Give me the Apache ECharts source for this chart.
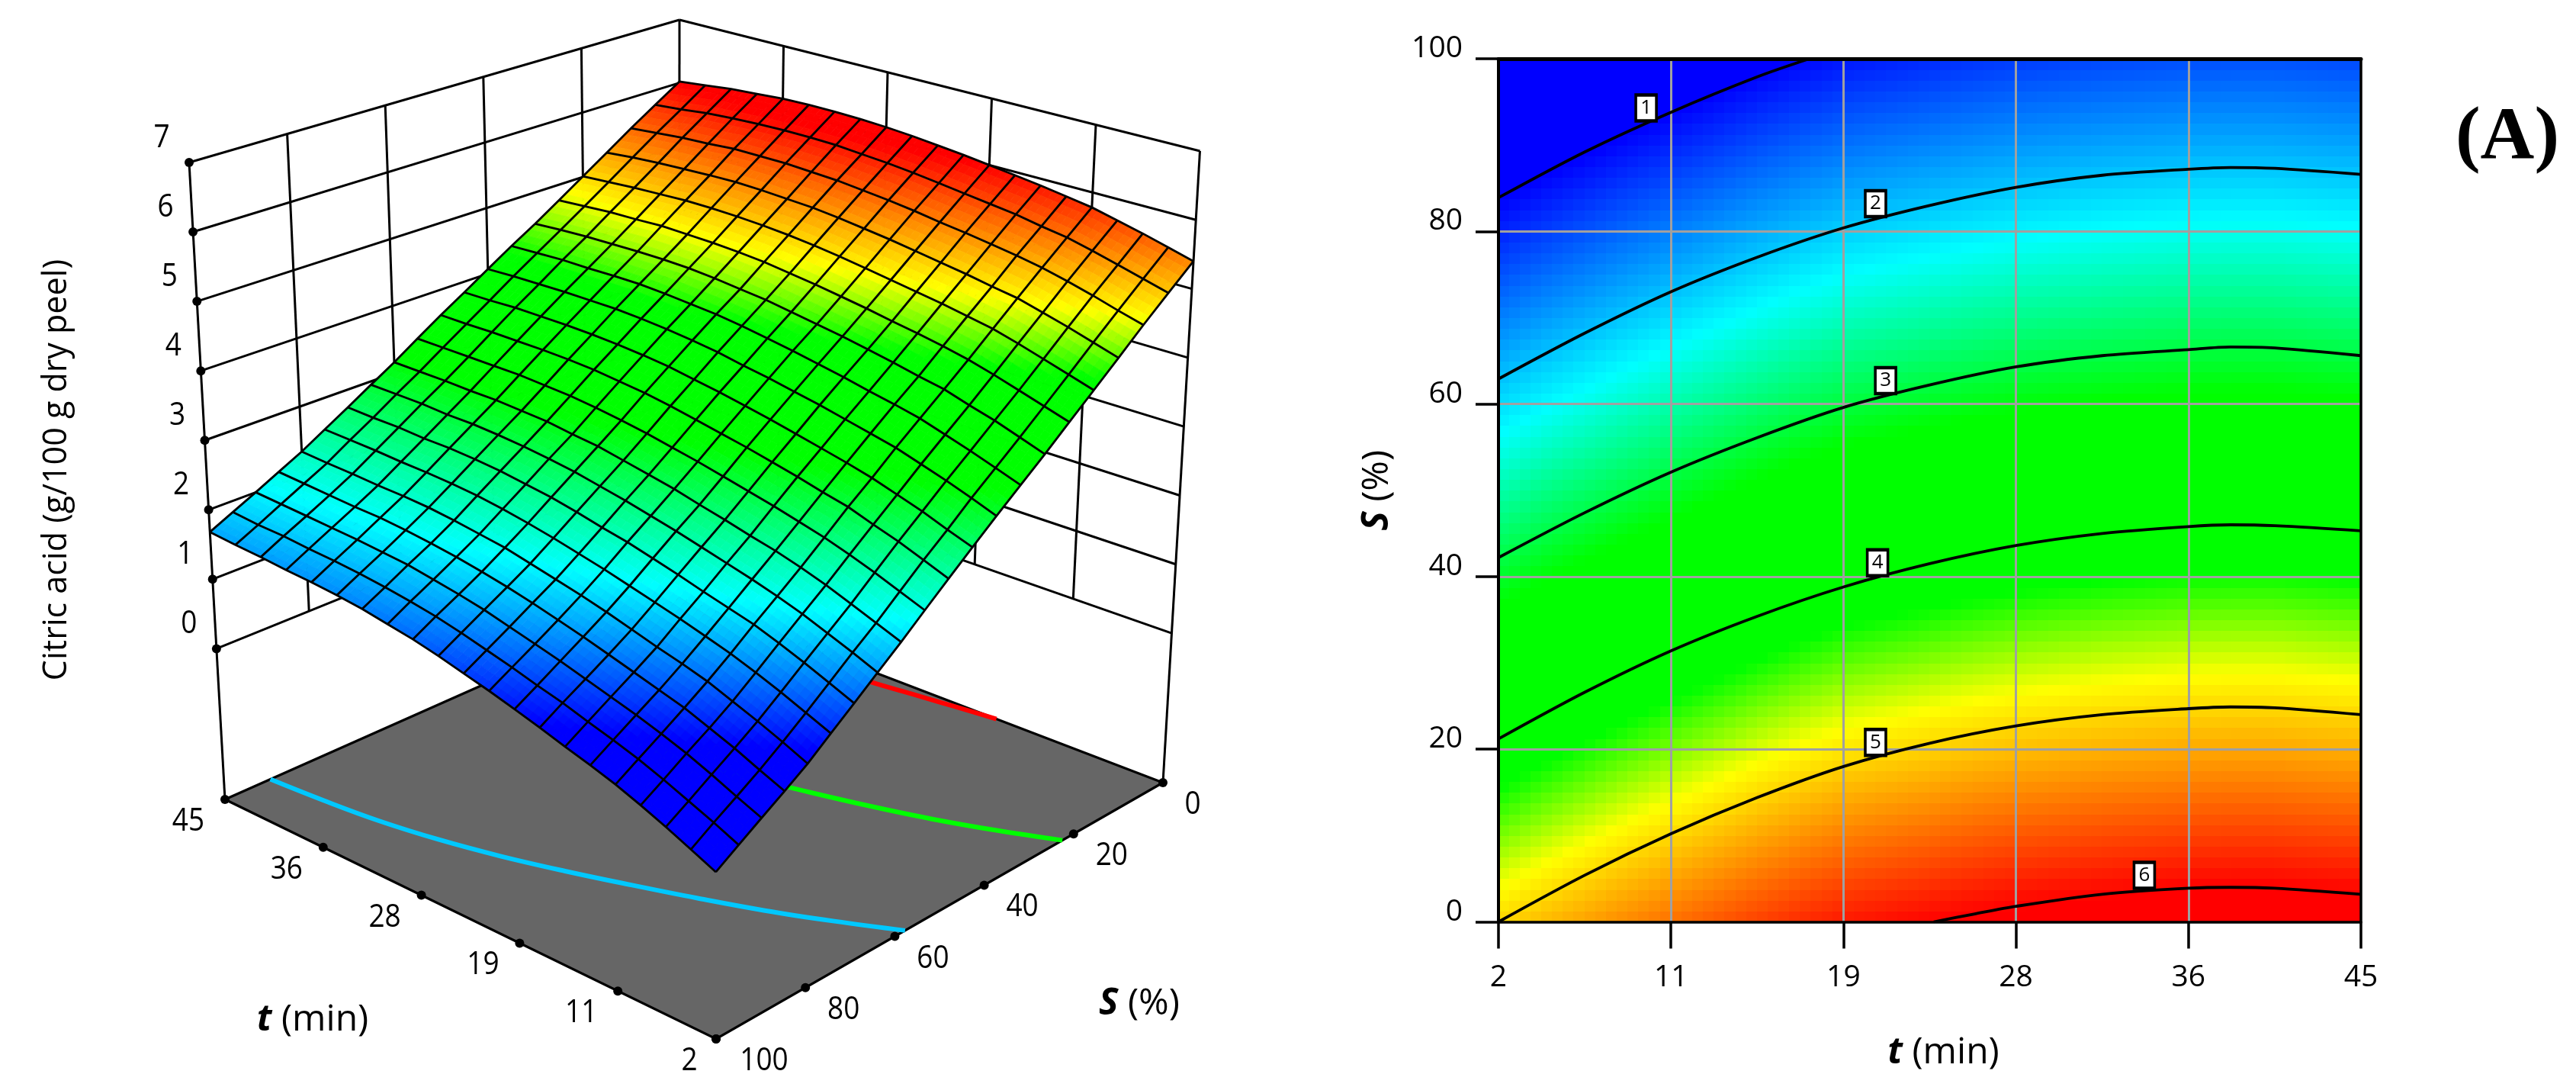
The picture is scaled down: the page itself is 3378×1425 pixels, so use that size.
<!DOCTYPE html>
<html><head><meta charset="utf-8">
<style>html,body{margin:0;padding:0;background:#fff}#c{width:3378px;height:1425px}</style>
<script src="https://cdn.jsdelivr.net/npm/echarts@6/dist/echarts.min.js"></script>
</head><body><div id="c"></div>
<script>
// ---------- data ----------
const tTicks = [2, 10.6, 19.2, 27.8, 36.4, 45];
const sTicks = [0, 20, 40, 60, 80, 100];
const zTicks = [0, 1, 2, 3, 4, 5, 6, 7];
const floorZ = -2.17;
const meshT = [2,4.15,6.3,8.45,10.6,12.75,14.9,17.05,19.2,21.35,23.5,25.65,27.8,29.95,32.1,34.25,36.4,38.55,40.7,42.85,45];
const meshS = [0,5,10,15,20,25,30,35,40,45,50,55,60,65,70,75,80,85,90,95,100];
// 3D surface: one row per meshT, one column per meshS
const surfaceZ = [
[5.40,5.09,4.78,4.46,4.15,3.85,3.55,3.27,2.99,2.71,2.43,2.15,1.87,1.61,1.35,1.10,.85,.64,.44,.24,.04],
[5.50,5.19,4.88,4.57,4.26,3.96,3.67,3.39,3.12,2.83,2.56,2.28,2.00,1.75,1.49,1.24,1.00,.78,.58,.39,.19],
[5.60,5.29,4.99,4.68,4.37,4.07,3.79,3.51,3.24,2.96,2.69,2.41,2.13,1.88,1.63,1.38,1.14,.93,.73,.53,.34],
[5.69,5.39,5.09,4.78,4.48,4.18,3.89,3.62,3.35,3.07,2.80,2.53,2.26,2.01,1.76,1.51,1.27,1.06,.87,.67,.48],
[5.78,5.48,5.18,4.88,4.58,4.28,4.00,3.73,3.46,3.18,2.92,2.64,2.37,2.12,1.88,1.63,1.40,1.19,.99,.80,.61],
[5.84,5.54,5.25,4.94,4.65,4.36,4.07,3.81,3.54,3.27,3.00,2.73,2.47,2.22,1.97,1.73,1.50,1.29,1.10,.91,.72],
[5.90,5.61,5.31,5.01,4.72,4.43,4.15,3.88,3.62,3.35,3.09,2.82,2.55,2.31,2.06,1.83,1.59,1.39,1.20,1.01,.82],
[5.95,5.66,5.37,5.07,4.78,4.49,4.22,3.96,3.70,3.43,3.17,2.90,2.64,2.40,2.16,1.92,1.69,1.49,1.30,1.12,.93],
[6.00,5.71,5.42,5.13,4.84,4.56,4.29,4.03,3.77,3.51,3.25,2.98,2.72,2.49,2.25,2.01,1.79,1.59,1.40,1.21,1.03],
[6.05,5.76,5.48,5.19,4.90,4.62,4.35,4.10,3.84,3.58,3.32,3.06,2.81,2.57,2.34,2.10,1.88,1.68,1.49,1.31,1.13],
[6.09,5.81,5.53,5.24,4.96,4.68,4.41,4.16,3.90,3.65,3.39,3.13,2.88,2.65,2.41,2.18,1.96,1.77,1.58,1.40,1.22],
[6.13,5.85,5.57,5.29,5.01,4.73,4.47,4.22,3.97,3.71,3.46,3.20,2.95,2.72,2.49,2.26,2.04,1.85,1.67,1.49,1.31],
[6.16,5.88,5.61,5.33,5.05,4.78,4.51,4.27,4.02,3.77,3.52,3.26,3.02,2.79,2.56,2.33,2.12,1.92,1.74,1.57,1.39],
[6.18,5.91,5.63,5.35,5.08,4.81,4.55,4.30,4.06,3.81,3.56,3.31,3.06,2.84,2.61,2.39,2.17,1.98,1.80,1.63,1.45],
[6.19,5.92,5.65,5.37,5.10,4.83,4.58,4.33,4.09,3.84,3.60,3.35,3.11,2.88,2.66,2.44,2.22,2.03,1.86,1.68,1.51],
[6.19,5.92,5.65,5.38,5.11,4.84,4.59,4.35,4.11,3.86,3.62,3.37,3.13,2.91,2.69,2.47,2.26,2.07,1.89,1.72,1.55],
[6.18,5.91,5.65,5.37,5.11,4.85,4.59,4.35,4.11,3.87,3.63,3.39,3.15,2.93,2.71,2.49,2.28,2.10,1.92,1.75,1.58],
[6.15,5.89,5.62,5.35,5.09,4.83,4.58,4.34,4.11,3.87,3.63,3.39,3.15,2.93,2.71,2.50,2.29,2.11,1.94,1.77,1.60],
[6.12,5.86,5.60,5.33,5.07,4.82,4.57,4.34,4.10,3.87,3.63,3.39,3.16,2.95,2.73,2.52,2.31,2.13,1.96,1.80,1.63],
[6.07,5.81,5.56,5.30,5.04,4.79,4.55,4.32,4.09,3.85,3.62,3.39,3.16,2.95,2.73,2.53,2.32,2.15,1.98,1.81,1.65],
[6.02,5.77,5.52,5.26,5.01,4.76,4.52,4.30,4.07,3.84,3.62,3.39,3.16,2.95,2.74,2.54,2.34,2.17,2.00,1.84,1.68]
];
// contour-plot field: one row per meshT, one column per heatS
const heatS = [0,10,20,30,40,50,60,70,80,90,100];
const heatZ = [
[5.00,4.52,4.04,3.57,3.09,2.61,2.13,1.65,1.17,.69,.22],
[5.13,4.65,4.17,3.70,3.22,2.74,2.26,1.78,1.30,.82,.35],
[5.25,4.77,4.29,3.82,3.34,2.86,2.38,1.90,1.42,.94,.47],
[5.37,4.89,4.41,3.94,3.46,2.98,2.50,2.02,1.54,1.06,.59],
[5.48,5.00,4.52,4.05,3.57,3.09,2.61,2.13,1.65,1.17,.70],
[5.59,5.11,4.63,4.16,3.68,3.20,2.72,2.24,1.76,1.28,.81],
[5.70,5.22,4.74,4.27,3.79,3.31,2.83,2.35,1.87,1.39,.92],
[5.80,5.32,4.84,4.37,3.89,3.41,2.93,2.45,1.97,1.49,1.02],
[5.89,5.41,4.93,4.46,3.98,3.50,3.02,2.54,2.06,1.58,1.11],
[5.94,5.46,4.98,4.51,4.03,3.55,3.07,2.59,2.11,1.63,1.16],
[5.99,5.51,5.03,4.56,4.08,3.60,3.12,2.64,2.16,1.68,1.21],
[6.04,5.56,5.08,4.61,4.13,3.65,3.17,2.69,2.21,1.73,1.26],
[6.08,5.60,5.12,4.65,4.17,3.69,3.21,2.73,2.25,1.77,1.30],
[6.11,5.63,5.15,4.68,4.20,3.72,3.24,2.76,2.28,1.80,1.33],
[6.14,5.66,5.18,4.71,4.23,3.75,3.27,2.79,2.31,1.83,1.36],
[6.16,5.68,5.20,4.73,4.25,3.77,3.29,2.81,2.33,1.85,1.38],
[6.18,5.70,5.22,4.75,4.27,3.79,3.31,2.83,2.35,1.87,1.40],
[6.19,5.71,5.23,4.76,4.28,3.80,3.32,2.84,2.36,1.88,1.41],
[6.19,5.71,5.23,4.76,4.28,3.80,3.32,2.84,2.36,1.88,1.41],
[6.17,5.69,5.21,4.74,4.26,3.78,3.30,2.82,2.34,1.86,1.39],
[6.15,5.67,5.19,4.72,4.24,3.76,3.28,2.80,2.32,1.84,1.37]
];
// contour lines of the 2D plot as [t, S]
const contour1 = [[2,83.9],[6.3,89.2],[10.6,93.8],[14.9,97.9],[17.5,100]];
const contour2 = [[2,62.9],[6.3,68.2],[10.6,73],[14.9,77],[19.2,80.4],[23.5,83],[27.8,85.1],[32.1,86.5],[36.4,87.2],[38.5,87.4],[40.7,87.3],[45,86.6]];
const contour3 = [[2,42.2],[6.3,47.4],[10.6,52.1],[14.9,56.1],[19.2,59.6],[23.5,62.2],[27.8,64.3],[32.1,65.6],[36.4,66.3],[38.5,66.6],[40.7,66.5],[45,65.6]];
const contour4 = [[2,21.2],[6.3,26.6],[10.6,31.4],[14.9,35.4],[19.2,38.8],[23.5,41.5],[27.8,43.6],[32.1,45],[36.4,45.8],[38.5,46],[40.7,45.9],[45,45.3]];
const contour5 = [[2,0],[6.3,5.4],[10.6,10.2],[14.9,14.4],[19.2,18],[23.5,20.7],[27.8,22.7],[32.1,24],[36.4,24.7],[38.5,24.9],[40.7,24.8],[45,24]];
const contour6 = [[23.7,0],[25.7,.9],[27.8,1.8],[32.1,3.2],[36.4,3.9],[38.5,4],[40.7,3.9],[45,3.2]];
const contourLabels = [[9.36,94.3,'1'],[20.8,83.2,'2'],[21.3,62.7,'3'],[20.9,41.6,'4'],[20.8,20.8,'5'],[34.2,5.4,'6']];
// contours on the floor of the 3D box as [t, S]
const floorLevel2 = [[2,57.7],[6.3,62.6],[10.6,67.2],[14.9,71.3],[19.2,75.2],[23.5,79],[27.8,82.5],[32.1,85.4],[36.4,87.6],[40.7,89],[45,90]];
const floorLevel4 = [[2,22.5],[6.3,26.4],[10.6,29.9],[14.9,32.9],[19.2,35.6],[23.5,38.1],[27.8,40.2],[32.1,41.6],[36.4,42.3],[40.7,42.2],[45,41.5]];
const floorLevel6 = [[16.8,0],[19.2,.6],[21.35,1.2],[23.5,1.8],[27.8,3],[32.1,3.5],[36.4,3.3],[40.7,2.3],[45,.4]];
// colour ramps: [z, r, g, b]
const ramp3D = [[.95,0,0,255],[2.05,0,255,255],[3.2,0,255,0],[4.25,0,255,0],[4.85,255,255,0],[6.0,255,0,0]];
const ramp2D = [[1.0,0,0,255],[2.3,0,255,255],[3.25,0,255,0],[4.25,0,255,0],[4.82,255,255,0],[6.0,255,0,0]];

// ---------- view calibration of the 3D box: screen position of its corners ----------
// index: [t end][S end] with t end 0 = 45, 1 = 2 and S end 0 = 100, 1 = 0
const boxFloor = [[[295,1048],[890.6,783.6]],[[939,1362],[1525,1026]]];
const boxTop = [[[248,213],[891,26]],[[938,454],[1573.5,198]]];
function project(t,S,z){
  const X=(45-t)/43,Y=(100-S)/100,Z=(z-floorZ)/(7-floorZ),out=[0,0];
  for(let k=0;k<2;k++){
    const f=(b)=>(b[0][0][k]*(1-Y)+b[0][1][k]*Y)*(1-X)+(b[1][0][k]*(1-Y)+b[1][1][k]*Y)*X;
    out[k]=f(boxFloor)*(1-Z)+f(boxTop)*Z;
  }
  return out;
}
function rampColor(z,ramp){
  if(z<=ramp[0][0])return `rgb(${ramp[0][1]},${ramp[0][2]},${ramp[0][3]})`;
  for(let k=1;k<ramp.length;k++){
    if(z<=ramp[k][0]){const a=ramp[k-1],b=ramp[k],f=(z-a[0])/(b[0]-a[0]);
      return `rgb(${Math.round(a[1]+(b[1]-a[1])*f)},${Math.round(a[2]+(b[2]-a[2])*f)},${Math.round(a[3]+(b[3]-a[3])*f)})`;}
  }
  const l=ramp[ramp.length-1];return `rgb(${l[1]},${l[2]},${l[3]})`;
}
const LABELFONT='"Open Sans",sans-serif';

// ---------- 3D panel items ----------
const wallSegs=[];
const seg=(a,b,w)=>wallSegs.push([a[0],a[1],a[2],b[0],b[1],b[2],w]);
zTicks.slice(0,-1).forEach(z=>{seg([45,100,z],[45,0,z],3);seg([45,0,z],[2,0,z],3);});
sTicks.filter(s=>s!==100).forEach(s=>seg([45,s,7],[45,s,0],3));
tTicks.filter(t=>t!==2&&t!==45).forEach(t=>seg([t,0,7],[t,0,0],3));
seg([45,100,7],[45,0,7],3);seg([45,0,7],[2,0,7],3);
seg([45,100,7],[45,100,floorZ],3);seg([2,0,7],[2,0,floorZ],3);

const dots=[];
zTicks.forEach(z=>dots.push([45,100,z]));
tTicks.forEach(t=>dots.push([t,100,floorZ]));
sTicks.forEach(s=>dots.push([2,s,floorZ]));

const labels3D=[];
zTicks.forEach(z=>labels3D.push([45,100,z,-36,-32,String(z)]));
tTicks.forEach(t=>labels3D.push([t,100,floorZ,t===2?-35:-48,29,String(Math.round(t))]));
sTicks.forEach(s=>labels3D.push([2,s,floorZ,s===0?39:(s===100?63:50),29,String(s)]));

const cells=[];
for(let j=meshT.length-2;j>=0;j--)for(let i=0;i<meshS.length-1;i++)cells.push([j,i]);
const meshLines=[];
meshT.forEach((_,j)=>meshLines.push([0,j]));
meshS.forEach((_,i)=>meshLines.push([1,i]));
const SUB=4;

function renderCell(params,api){
  const j=api.value(0),i=api.value(1),kids=[];
  const z00=surfaceZ[j][i],z01=surfaceZ[j][i+1],z10=surfaceZ[j+1][i],z11=surfaceZ[j+1][i+1];
  const at=(a,b)=>{
    const t=meshT[j]+(meshT[j+1]-meshT[j])*a,S=meshS[i]+(meshS[i+1]-meshS[i])*b;
    const z=(z00*(1-a)+z10*a)*(1-b)+(z01*(1-a)+z11*a)*b;
    return {p:api.coord(project(t,S,z)),z};
  };
  for(let a=SUB-1;a>=0;a--)for(let b=0;b<SUB;b++){
    const c=at((a+.5)/SUB,(b+.5)/SUB),col=rampColor(c.z,ramp3D);
    kids.push({type:'polygon',shape:{points:[at(a/SUB,b/SUB).p,at((a+1)/SUB,b/SUB).p,at((a+1)/SUB,(b+1)/SUB).p,at(a/SUB,(b+1)/SUB).p]},
      style:{fill:col,stroke:col,lineWidth:.8}});
  }
  return {type:'group',children:kids};
}
function renderMesh(params,api){
  const kind=api.value(0),k=api.value(1),pts=[];
  if(kind===0)meshS.forEach((S,i)=>pts.push(api.coord(project(meshT[k],S,surfaceZ[k][i]))));
  else meshT.forEach((t,j)=>pts.push(api.coord(project(t,meshS[k],surfaceZ[j][k]))));
  return {type:'polyline',shape:{points:pts},style:{fill:null,stroke:'#000',lineWidth:2.8}};
}
function floorContourSeries(arr,color){
  return {type:'custom',xAxisIndex:0,yAxisIndex:0,silent:true,z:2,data:[[0,0]],
    renderItem:(p,api)=>({type:'polyline',shape:{points:arr.map(q=>api.coord(project(q[0],q[1],floorZ))),smooth:.4},
      style:{fill:null,stroke:color,lineWidth:6}})};
}
function renderHeat(params,api){
  const j=api.value(0),i=api.value(1),kids=[],NA=4,NB=8;
  for(let a=0;a<NA;a++)for(let b=0;b<NB;b++){
    const fa=a/NA,fa2=(a+1)/NA,fb=b/NB,fb2=(b+1)/NB,ma=(fa+fa2)/2,mb=(fb+fb2)/2;
    const z=(heatZ[j][i]*(1-ma)+heatZ[j+1][i]*ma)*(1-mb)+(heatZ[j][i+1]*(1-ma)+heatZ[j+1][i+1]*ma)*mb;
    const dt=meshT[j+1]-meshT[j],dS=heatS[i+1]-heatS[i];
    const p1=api.coord([meshT[j]+dt*fa,heatS[i]+dS*fb2]),p2=api.coord([meshT[j]+dt*fa2,heatS[i]+dS*fb]);
    kids.push({type:'rect',shape:{x:Math.floor(p1[0]),y:Math.floor(p1[1]),width:Math.ceil(p2[0])-Math.floor(p1[0]),height:Math.ceil(p2[1])-Math.floor(p1[1])},
      style:{fill:rampColor(z,ramp2D)}});
  }
  return {type:'group',children:kids};
}
const heatCells=[];
for(let j=0;j<meshT.length-1;j++)for(let i=0;i<heatS.length-1;i++)heatCells.push([j,i]);

const contourSeries=[contour1,contour2,contour3,contour4,contour5,contour6].map(c=>({
  type:'line',xAxisIndex:1,yAxisIndex:1,data:c,showSymbol:false,smooth:.3,z:4,silent:true,
  lineStyle:{color:'#000',width:3.8}
}));

const axisTitleRich={b:{fontFamily:'"Open Sans"',fontWeight:'bold',fontStyle:'italic',fontSize:48,fill:'#000',color:'#000'},
  n:{fontFamily:'"Open Sans"',fontSize:48,fill:'#000',color:'#000'}};

const option={
  animation:false,backgroundColor:'#fff',
  grid:[{left:0,top:0,width:3378,height:1425,show:false},{left:1965,top:77,width:1131,height:1131.5,show:false}],
  xAxis:[
    {gridIndex:0,type:'value',min:0,max:3378,show:false},
    {gridIndex:1,type:'value',min:2,max:45,z:3,position:'bottom',
      name:'{b|t}{n|\u00a0(min)}',nameLocation:'middle',nameGap:148,nameTextStyle:{rich:axisTitleRich,padding:[0,0,0,36]},
      axisLine:{show:true,onZero:false,lineStyle:{color:'#000',width:3.5}},
      axisTick:{show:true,length:35,customValues:tTicks,lineStyle:{color:'#000',width:3.5}},
      axisLabel:{show:true,customValues:tTicks,formatter:v=>String(Math.round(v)),margin:54,fontFamily:LABELFONT,fontSize:39,color:'#000',hideOverlap:false,showMinLabel:true,showMaxLabel:true},
      splitLine:{show:true,showMinLine:false,showMaxLine:false,lineStyle:{color:'#a0a0a0',width:3}}},
    {gridIndex:1,type:'value',min:2,max:45,z:3,position:'top',
      axisLine:{show:true,onZero:false,lineStyle:{color:'#000',width:5}},axisTick:{show:false},axisLabel:{show:false},splitLine:{show:false}}
  ],
  yAxis:[
    {gridIndex:0,type:'value',min:0,max:1425,inverse:true,show:false},
    {gridIndex:1,type:'value',min:0,max:100,interval:20,z:3,position:'left',
      name:'{b|S}{n|\u00a0(%)}',nameLocation:'middle',nameGap:135,nameRotate:90,nameTextStyle:{rich:axisTitleRich},
      axisLine:{show:true,onZero:false,lineStyle:{color:'#000',width:4}},
      axisTick:{show:true,length:30,lineStyle:{color:'#000',width:3.5}},
      axisLabel:{show:true,margin:47,fontFamily:LABELFONT,fontSize:39,color:'#000',verticalAlign:'bottom',lineHeight:26,showMinLabel:true,showMaxLabel:true},
      splitLine:{show:true,showMinLine:false,showMaxLine:false,lineStyle:{color:'#a0a0a0',width:3}}},
    {gridIndex:1,type:'value',min:0,max:100,interval:20,z:3,position:'right',
      axisLine:{show:true,onZero:false,lineStyle:{color:'#000',width:3.5}},axisTick:{show:false},axisLabel:{show:false},splitLine:{show:false}}
  ],
  series:[
    // walls
    {type:'custom',xAxisIndex:0,yAxisIndex:0,silent:true,z:1,data:wallSegs,
      renderItem:(p,api)=>{const a=api.coord(project(api.value(0),api.value(1),api.value(2))),b=api.coord(project(api.value(3),api.value(4),api.value(5)));
        return {type:'line',shape:{x1:a[0],y1:a[1],x2:b[0],y2:b[1]},style:{stroke:'#000',lineWidth:api.value(6)}};}},
    // floor
    {type:'custom',xAxisIndex:0,yAxisIndex:0,silent:true,z:1,data:[[0,0]],
      renderItem:(p,api)=>({type:'polygon',shape:{points:[[45,100],[45,0],[2,0],[2,100]].map(q=>api.coord(project(q[0],q[1],floorZ)))},
        style:{fill:'#666666',stroke:'#000',lineWidth:3.2}})},
    floorContourSeries(floorLevel2,'#00c8ff'),
    floorContourSeries(floorLevel4,'#00ff00'),
    floorContourSeries(floorLevel6,'#ff0000'),
    // tick dots
    {type:'custom',xAxisIndex:0,yAxisIndex:0,silent:true,z:2,data:dots,
      renderItem:(p,api)=>{const a=api.coord(project(api.value(0),api.value(1),api.value(2)));
        return {type:'circle',shape:{cx:a[0],cy:a[1],r:6},style:{fill:'#000'}};}},
    // surface
    {type:'custom',xAxisIndex:0,yAxisIndex:0,silent:true,z:3,progressive:0,data:cells,renderItem:renderCell},
    {type:'custom',xAxisIndex:0,yAxisIndex:0,silent:true,z:3,progressive:0,data:meshLines,renderItem:renderMesh},
    // tick labels of the box
    {type:'custom',xAxisIndex:0,yAxisIndex:0,silent:true,z:5,data:labels3D.map(l=>l.slice(0,5)),
      renderItem:(p,api)=>{const l=labels3D[p.dataIndex],a=api.coord(project(l[0],l[1],l[2]));
        return {type:'text',x:a[0]+l[3],y:a[1]+l[4],scaleX:.88,style:{text:l[5],fill:'#000',font:'42px '+LABELFONT,align:'center',verticalAlign:'middle'}};}},
    // contour field
    {type:'custom',xAxisIndex:1,yAxisIndex:1,silent:true,z:1,progressive:0,data:heatCells,renderItem:renderHeat},
    ...contourSeries,
    {type:'scatter',xAxisIndex:1,yAxisIndex:1,silent:true,z:5,symbol:'rect',symbolSize:[27,34],
      data:contourLabels.map(l=>({value:[l[0],l[1]],label:{formatter:l[2]}})),
      itemStyle:{color:'#fff',opacity:1,borderColor:'#000',borderWidth:4},
      label:{show:true,position:'inside',color:'#000',fontFamily:LABELFONT,fontSize:26}}
  ],
  graphic:[
    {type:'text',x:75,y:616,rotation:Math.PI/2,style:{text:'Citric acid (g/100 g dry peel)',fill:'#000',font:'43px "Open Sans"',align:'center',verticalAlign:'middle'}},
    {type:'text',x:410,y:1337,style:{text:'{b|t}{n|\u00a0(min)}',rich:axisTitleRich,fill:'#000',align:'center',verticalAlign:'middle'}},
    {type:'text',x:1494,y:1316,style:{text:'{b|S}{n|\u00a0(%)}',rich:axisTitleRich,fill:'#000',align:'center',verticalAlign:'middle'}},
    {type:'text',x:3288,y:182,style:{text:'(A)',fill:'#000',font:'bold 98px "Liberation Serif"',align:'center',verticalAlign:'middle'}}
  ]
};
echarts.init(document.getElementById('c'),null,{renderer:'canvas'}).setOption(option);
</script></body></html>
